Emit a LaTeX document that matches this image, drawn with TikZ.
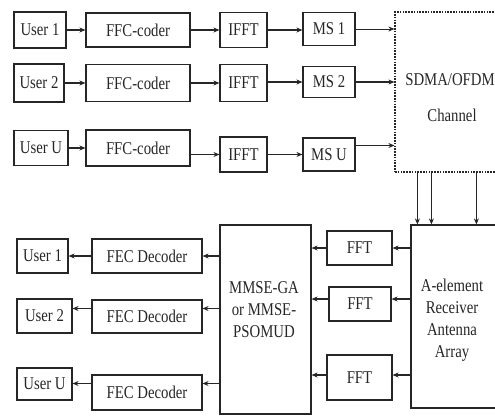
\documentclass[tikz,border=0pt]{standalone}
\usepackage{fontspec}
\setmainfont{Liberation Serif}[FakeStretch=0.82]
\usetikzlibrary{arrows.meta}
\definecolor{ink}{HTML}{262626}
\tikzset{
  blk/.style={draw=ink, line width=1.1pt, inner sep=0pt, font=\fontsize{18}{22}\selectfont, text=ink, align=center},
  arr/.style={draw=ink, line width=1.1pt, -{Stealth[length=6pt,width=5pt]}},
  lbl/.style={inner sep=0pt, font=\fontsize{18}{22}\selectfont, text=ink, align=center}
}
\begin{document}
\begin{tikzpicture}[x=1pt,y=-1pt]
\useasboundingbox (0,0) rectangle (495,416);
\clip (0,0) rectangle (495,416);
% transmitter rows
\node[blk, minimum width=52, minimum height=36] (u1) at (40,30) {User 1};
\node[blk, minimum width=104, minimum height=34] (ffc1) at (138,30) {FFC-coder};
\node[blk, minimum width=47, minimum height=35] (ifft1) at (243.5,30) {IFFT};
\node[blk, minimum width=52, minimum height=33] (ms1) at (329,29) {MS 1};
\node[blk, minimum width=50, minimum height=38] (u2) at (39,83) {User 2};
\node[blk, minimum width=104, minimum height=37] (ffc2) at (138,83) {FFC-coder};
\node[blk, minimum width=47, minimum height=37] (ifft2) at (243.5,83) {IFFT};
\node[blk, minimum width=52, minimum height=31] (ms2) at (329,82) {MS 2};
\node[blk, minimum width=54, minimum height=35] (uU) at (41,148) {User U};
\node[blk, minimum width=104, minimum height=36] (ffcU) at (138,148) {FFC-coder};
\node[blk, minimum width=47, minimum height=35] (ifftU) at (243.5,154.5) {IFFT};
\node[blk, minimum width=52, minimum height=33] (msU) at (329,154.5) {MS U};
% channel
\node[draw=ink, line width=1.2pt, dash pattern=on 1.6pt off 1.2pt, minimum width=115, minimum height=160, inner sep=0pt] (chan) at (452.5,92) {};
\node[lbl] (chant1) at (450,80) {SDMA/OFDM};
\node[lbl] (chant2) at (452,115) {Channel};
\draw[arr] (u1.east) -- (ffc1.west);
\draw[arr] (ffc1.east) -- (ifft1.west);
\draw[arr] (ifft1.east) -- (ms1.west |- ifft1.east);
\draw[arr, line width=0.7pt] (ms1.east) -- (chan.west |- ms1.east);
\draw[arr] (u2.east) -- (ffc2.west);
\draw[arr] (ffc2.east) -- (ifft2.west);
\draw[arr] (ifft2.east |- ms2.west) -- (ms2.west);
\draw[arr] (ms2.east) -- (chan.west |- ms2.east);
\draw[arr] (uU.east) -- (ffcU.west);
\draw[arr] (ffcU.east |- ifftU.west) -- (ifftU.west);
\draw[arr] (ifftU.east) -- (msU.west);
\coordinate (msUa) at ([yshift=9pt]msU.east);
\draw[arr] (msUa) -- (chan.west |- msUa);
% receiver
\node[blk, minimum width=99, minimum height=183] (rx) at (460.5,316.5) {};
\node[lbl] (rxt) at (452,320) {A-element\\Receiver\\Antenna\\Array};
\coordinate (d1) at ([xshift=23pt]chan.south west);
\coordinate (d2) at ([xshift=37pt]chan.south west);
\coordinate (d3) at ([xshift=82pt]chan.south west);
\draw[arr] (d1) -- (d1 |- rx.north);
\draw[arr] (d2) -- (d2 |- rx.north);
\draw[arr] (d3) -- (d3 |- rx.north);
\node[blk, minimum width=65, minimum height=34] (fft1) at (359.5,248) {FFT};
\node[blk, minimum width=62, minimum height=34] (fft2) at (360,304) {FFT};
\node[blk, minimum width=65, minimum height=45] (fft3) at (359.5,377.5) {FFT};
\node[blk, minimum width=91, minimum height=189] (mmse) at (265.5,319.5) {};
\node[lbl] (mmset) at (264,310) {MMSE-GA\\or MMSE-\\PSOMUD};
\coordinate (f2) at ([yshift=5pt]fft2.east);
\coordinate (f2w) at ([yshift=5pt]fft2.west);
\coordinate (f3) at ([yshift=2.5pt]fft3.east);
\coordinate (f3w) at ([yshift=2.5pt]fft3.west);
\draw[arr] (rx.west |- fft1.east) -- (fft1.east);
\draw[arr] (fft1.west) -- (mmse.east |- fft1.west);
\draw[arr] (rx.west |- f2) -- (f2);
\draw[arr] (f2w) -- (mmse.east |- f2w);
\draw[arr] (rx.west |- f3) -- (f3);
\draw[arr] (f3w) -- (mmse.east |- f3w);
\node[blk, minimum width=110, minimum height=34] (fec1) at (147,256) {FEC Decoder};
\node[blk, minimum width=110, minimum height=33] (fec2) at (147,316.5) {FEC Decoder};
\node[blk, minimum width=110, minimum height=35] (fec3) at (147,392.5) {FEC Decoder};
\node[blk, minimum width=51, minimum height=34] (o1) at (42.5,256) {User 1};
\node[blk, minimum width=55, minimum height=34] (o2) at (44.5,316) {User 2};
\node[blk, minimum width=55, minimum height=32] (oU) at (44.5,384) {User U};
\coordinate (e2) at ([yshift=8pt]fec2.east);
\coordinate (e2w) at ([yshift=8pt]fec2.west);
\coordinate (e3) at ([yshift=9pt]fec3.east);
\coordinate (e3w) at ([yshift=9pt]fec3.west);
\draw[arr] (mmse.west |- fec1.east) -- (fec1.east);
\draw[arr] (fec1.west) -- (o1.east);
\draw[arr] (mmse.west |- e2) -- (e2);
\draw[arr] (e2w) -- (o2.east |- e2w);
\draw[arr] (mmse.west |- e3) -- (e3);
\draw[arr] (e3w) -- (oU.east |- e3w);
\end{tikzpicture}
\end{document}
